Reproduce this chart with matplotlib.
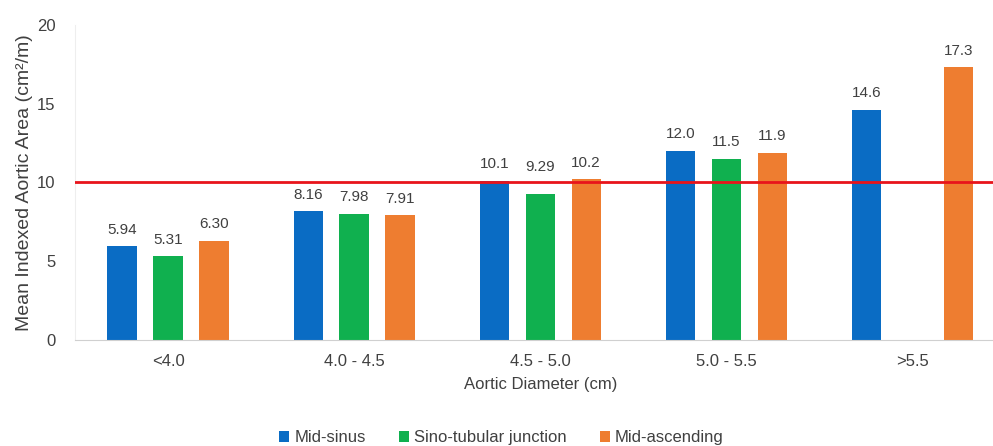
import numpy as np
import matplotlib.pyplot as plt

groups = ['<4.0', '4.0 - 4.5', '4.5 - 5.0', '5.0 - 5.5', '>5.5']
mid_sinus = [5.94, 8.16, 10.1, 12.0, 14.6]
sino_tubular = [5.31, 7.98, 9.29, 11.5, None]
mid_ascending = [6.30, 7.91, 10.2, 11.9, 17.3]
labels_sinus = ['5.94', '8.16', '10.1', '12.0', '14.6']
labels_stj = ['5.31', '7.98', '9.29', '11.5', '']
labels_asc = ['6.30', '7.91', '10.2', '11.9', '17.3']
threshold = 10

series = [
    ('Mid-sinus', mid_sinus, labels_sinus, '#0A6CC4'),
    ('Sino-tubular junction', sino_tubular, labels_stj, '#10B04F'),
    ('Mid-ascending', mid_ascending, labels_asc, '#EE7D30'),
]

plt.rcParams['font.family'] = ['Liberation Sans', 'DejaVu Sans']
txt = '#404040'

fig = plt.figure(figsize=(9.93, 4.46), dpi=100)
ax = fig.add_axes([0.0755, 0.238, 0.937, 0.706])

x = np.arange(len(groups))
w = 0.157
off = 0.247
for i, (name, vals, labs, col) in enumerate(series):
    xs = [xi + (i - 1) * off for xi, v in zip(x, vals) if v is not None]
    vs = [v for v in vals if v is not None]
    ls = [l for l, v in zip(labs, vals) if v is not None]
    bars = ax.bar(xs, vs, width=w, color=col, label=name, zorder=2)
    for b, l in zip(bars, ls):
        # keep the label clear of the threshold line
        pad = 14 if threshold - 1 < b.get_height() < threshold else 7
        ax.annotate(l, (b.get_x() + b.get_width() / 2, b.get_height()),
                    xytext=(0, pad), textcoords='offset points',
                    ha='center', va='bottom', fontsize=11, color=txt)

ax.axhline(threshold, color='#E8141B', lw=2, zorder=3)

ax.set_xlim(-0.5, 4.5)
ax.set_ylim(0, 20)
ax.set_yticks([0, 5, 10, 15, 20])
ax.set_xticks(x)
ax.set_xticklabels(groups)
ax.tick_params(axis='both', length=0, labelsize=12, colors=txt)
ax.tick_params(axis='x', pad=10)
ax.tick_params(axis='y', pad=14)
for s in ['top', 'right']:
    ax.spines[s].set_visible(False)
ax.spines['left'].set_color('#eeeeee')
ax.spines['bottom'].set_color('#d0d0d0')

ax.set_xlabel('Aortic Diameter (cm)', fontsize=12, color=txt, labelpad=6)
ax.set_ylabel('Mean Indexed Aortic Area (cm²/m)', fontsize=14, color=txt, labelpad=3)

fig.legend(loc='lower center', bbox_to_anchor=(0.505, -0.032), ncol=3, frameon=False,
           fontsize=12, handlelength=0.6, handleheight=0.6, handletextpad=0.3,
           columnspacing=2.0, labelcolor=txt)

fig.savefig('out.png', dpi=100)
